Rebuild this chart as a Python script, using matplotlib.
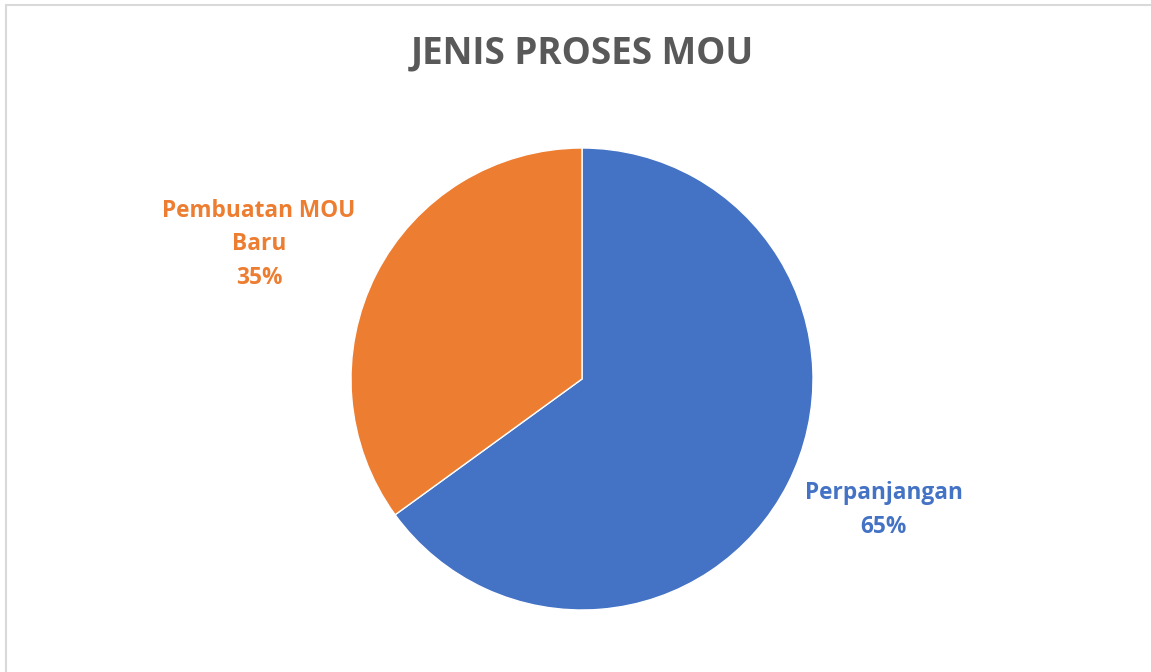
import matplotlib.pyplot as plt
from matplotlib.patches import Rectangle

# data
categories = ['Perpanjangan', 'Pembuatan MOU\nBaru']
values = [65, 35]
colors = ['#4472C4', '#ED7D31']

W, H = 1151, 672
fig = plt.figure(figsize=(W / 100, H / 100), dpi=100)
plt.rcParams['font.family'] = ['Open Sans', 'DejaVu Sans']

# light grey chart border (right/bottom cut off)
fig.patches.append(Rectangle((5.5 / W, -0.1), 1.2, 1.1 - 5.5 / H, transform=fig.transFigure,
                             fill=False, edgecolor='#D9D9D9', linewidth=1.5))

cx, cy, r = 582, 379, 231
ax = fig.add_axes([(cx - r) / W, (H - cy - r) / H, 2 * r / W, 2 * r / H])
ax.pie(values, colors=colors, startangle=90, counterclock=False, radius=1,
       wedgeprops=dict(edgecolor='white', linewidth=1))
ax.set_xlim(-1, 1)
ax.set_ylim(-1, 1)
ax.set_aspect('equal')
ax.axis('off')

total = sum(values)
label_pos = [(1.307, -0.567), (-1.398, 0.584)]
for cat, v, c, (lx, ly) in zip(categories, values, colors, label_pos):
    ax.text(lx, ly, f'{cat}\n{v / total:.0%}', color=c, fontsize=16.3, fontweight='bold',
            ha='center', va='center', linespacing=1.53, clip_on=False)

fig.text(582 / W, 1 - 53 / H, 'JENIS PROSES MOU', ha='center', va='center',
         fontsize=26.5, fontweight='bold', color='#595959')

fig.savefig('out.png', dpi=100)
